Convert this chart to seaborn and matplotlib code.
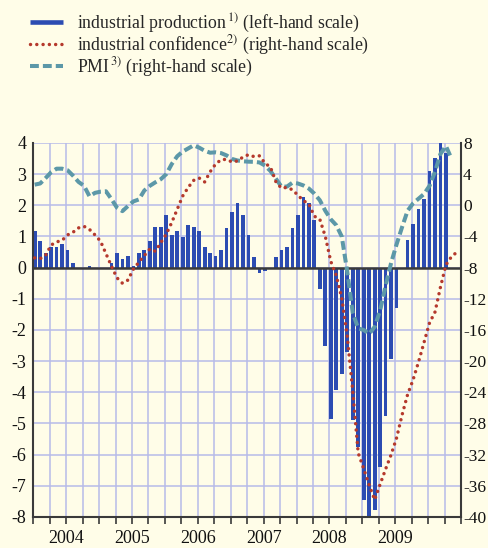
import numpy as np
import pandas as pd
import matplotlib
matplotlib.use("Agg")
import matplotlib.pyplot as plt
import seaborn as sns
from matplotlib.lines import Line2D
from matplotlib.transforms import blended_transform_factory

# ---------------- data (monthly, Jan 2004 = month 0) ----------------
years = ["2004", "2005", "2006", "2007", "2008", "2009"]

# industrial production (left-hand scale), Jan 2004 .. Apr 2010
ip_values = [1.17, 0.85, 0.46, 0.67, 0.65, 0.76, 0.57, 0.14, 0.0, -0.05,
             0.06, 0.0, 0.0, 0.0, 0.14, 0.46, 0.27, 0.36, 0.06, 0.46,
             0.57, 0.87, 1.30, 1.30, 1.68, 1.06, 1.17, 0.97, 1.36, 1.29,
             1.17, 0.65, 0.46, 0.36, 0.57, 1.28, 1.78, 2.07, 1.68, 1.06,
             0.35, -0.17, -0.10, 0.0, 0.35, 0.57, 0.65, 1.28, 1.69, 2.28,
             2.07, 1.53, -0.69, -2.52, -4.85, -3.94, -3.42, -2.70, -4.90, -5.76,
             -7.47, -7.99, -7.77, -6.40, -4.75, -2.93, -1.29, 0.0, 0.88, 1.39,
             1.88, 2.20, 3.11, 3.51, 4.01, 3.69]

# industrial confidence (right-hand scale), Jan 2004 .. Jun 2010
conf_values = [-6.75, -6.85, -6.4, -5.1, -4.7, -4.5, -3.8, -3.45, -2.9, -2.7,
               -3.1, -3.8, -4.6, -6.2, -7.8, -9.3, -10.0, -9.6, -8.2, -7.3,
               -6.45, -5.6, -5.9, -4.8, -3.7, -2.2, -0.5, 1.2, 2.3, 3.2,
               3.5, 3.0, 4.3, 5.3, 5.85, 5.9, 5.55, 5.7, 6.2, 6.5,
               6.25, 6.35, 5.4, 4.9, 3.0, 2.2, 2.3, 2.0, 1.3, 0.6,
               0.17, -1.4, -1.8, -4.0, -7.2, -9.0, -11.9, -16.8, -23.8, -31.8,
               -33.8, -35.9, -37.8, -35.8, -33.85, -32.0, -29.85, -26.9, -24.3, -22.4,
               -20.1, -17.6, -15.1, -13.7, -10.5, -7.65, -6.6, -6.0]

# PMI (right-hand scale), Jan 2004 .. May 2010
pmi_values = [2.65, 2.8, 3.5, 4.25, 4.7, 4.7, 4.5, 3.8, 3.0, 2.5,
              1.15, 1.6, 1.75, 1.8, 0.8, -0.3, -0.75, -0.1, 0.5, 0.75,
              1.9, 2.5, 2.95, 3.35, 4.0, 5.3, 6.3, 6.9, 7.3, 7.7,
              7.4, 7.0, 6.75, 6.8, 6.7, 6.4, 5.95, 5.75, 5.65, 5.6,
              5.58, 5.5, 5.1, 4.4, 3.4, 2.4, 2.4, 2.9, 2.8, 2.55,
              2.15, 1.5, 0.65, -0.7, -1.8, -2.55, -4.0, -8.5, -13.8, -15.8,
              -16.0, -16.5, -15.6, -13.5, -10.3, -7.4, -5.0, -2.8, -0.7, 0.25,
              0.85, 1.45, 2.5, 4.3, 6.6, 7.6, 6.0]

legend_labels = ["industrial production$^{\\,1)}$ (left-hand scale)",
                 "industrial confidence$^{2)}$ (right-hand scale)",
                 "PMI$^{\\,3)}$ (right-hand scale)"]

df_ip = pd.DataFrame({"month": np.arange(len(ip_values)), "value": ip_values})
df_conf = pd.DataFrame({"month": np.arange(len(conf_values)), "value": conf_values})
df_pmi = pd.DataFrame({"month": np.arange(len(pmi_values)), "value": pmi_values})

# ---------------- style ----------------
sns.set_theme(style="white")
plt.rcParams["font.family"] = ["Liberation Serif", "DejaVu Serif"]
plt.rcParams["mathtext.fontset"] = "stix"
plt.rcParams["axes.unicode_minus"] = False

BG = "#fffde8"
BLUE = "#2c4cb2"
RED = "#b5392c"
TEAL = "#5c98a8"
GRID = "#b7bbe8"
DARK = "#3a3a3a"

fig = plt.figure(figsize=(4.89, 5.48), dpi=100, facecolor=BG)
ax = fig.add_axes([0.0681, 0.0566, 0.8747, 0.6825])
ax.set_facecolor(BG)

sns.barplot(data=df_ip, x="month", y="value", ax=ax, color=BLUE,
            native_scale=True, width=0.68, errorbar=None,
            saturation=1, edgecolor="none", zorder=2)
ax.axhline(0, color=DARK, lw=1.8, zorder=3)

ax2 = ax.twinx()
sns.lineplot(data=df_pmi, x="month", y="value", ax=ax2, color=TEAL,
             lw=2.9, errorbar=None, sort=False)
sns.lineplot(data=df_conf, x="month", y="value", ax=ax2, color=RED,
             lw=2.5, errorbar=None, sort=False)
l_pmi, l_conf = ax2.lines[0], ax2.lines[1]
l_pmi.set_linestyle((0, (2.2, 1.0)))
l_pmi.set_dash_capstyle("butt")
l_conf.set_linestyle((0, (0.01, 1.8)))
l_conf.set_dash_capstyle("round")

# ---------------- axes ----------------
x0 = -0.25
quarters = [x0 + 3 * k for k in range(27)]
midyears = [x0 + 6 + 12 * i for i in range(len(years))]

ax.set_xlim(x0, x0 + 78)
ax.set_ylim(-8, 4)
ax2.set_ylim(-40, 8)

ax.set_yticks(range(-8, 5))
ax.set_yticklabels([str(v) for v in range(-8, 5)])
ax2.set_yticks(range(-40, 9, 4))
ax2.set_yticklabels([str(v) for v in range(-40, 9, 4)])

ax.set_xticks(quarters)
ax.set_xticklabels([""] * len(quarters))

tr = blended_transform_factory(ax.transData, ax.transAxes)
for xm, yr in zip(midyears, years):
    ax.text(xm, -0.035, yr, transform=tr, ha="center", va="top",
            fontsize=13, color="#111111")

ax.grid(True, which="major", color=GRID, lw=1.1)
ax.set_axisbelow(True)
ax2.grid(False)

ax.tick_params(axis="x", which="major", bottom=True, length=5, width=1.2,
               color=DARK, direction="out")
ax.tick_params(axis="y", left=True, length=0, pad=5, labelsize=13,
               labelcolor="#111111")
ax2.tick_params(axis="y", right=True, length=0, pad=1.5, labelsize=12.5,
                labelcolor="#111111")

for a in (ax, ax2):
    a.set_xlabel("")
    a.set_ylabel("")
    for s in a.spines.values():
        s.set_visible(False)
ax.spines["left"].set_visible(True)
ax.spines["bottom"].set_visible(True)
ax2.spines["right"].set_visible(True)
for s in (ax.spines["left"], ax.spines["bottom"], ax2.spines["right"]):
    s.set_color(DARK)
    s.set_linewidth(1.5)

# ---------------- legend ----------------
handles = [
    Line2D([0], [0], color=BLUE, lw=3.3, solid_capstyle="butt"),
    Line2D([0], [0], color=RED, lw=2.5, linestyle=(0, (0.01, 1.8)),
           dash_capstyle="round"),
    Line2D([0], [0], color=TEAL, lw=2.9, linestyle=(0, (2.2, 1.0)),
           dash_capstyle="butt"),
]
fig.legend(handles, legend_labels, loc="upper left",
           bbox_to_anchor=(0.062, 0.979), frameon=False, fontsize=12.8,
           handlelength=1.85, handletextpad=0.8, labelspacing=-0.05,
           borderpad=0, borderaxespad=0)

fig.savefig("out.png", dpi=100, facecolor=BG)
